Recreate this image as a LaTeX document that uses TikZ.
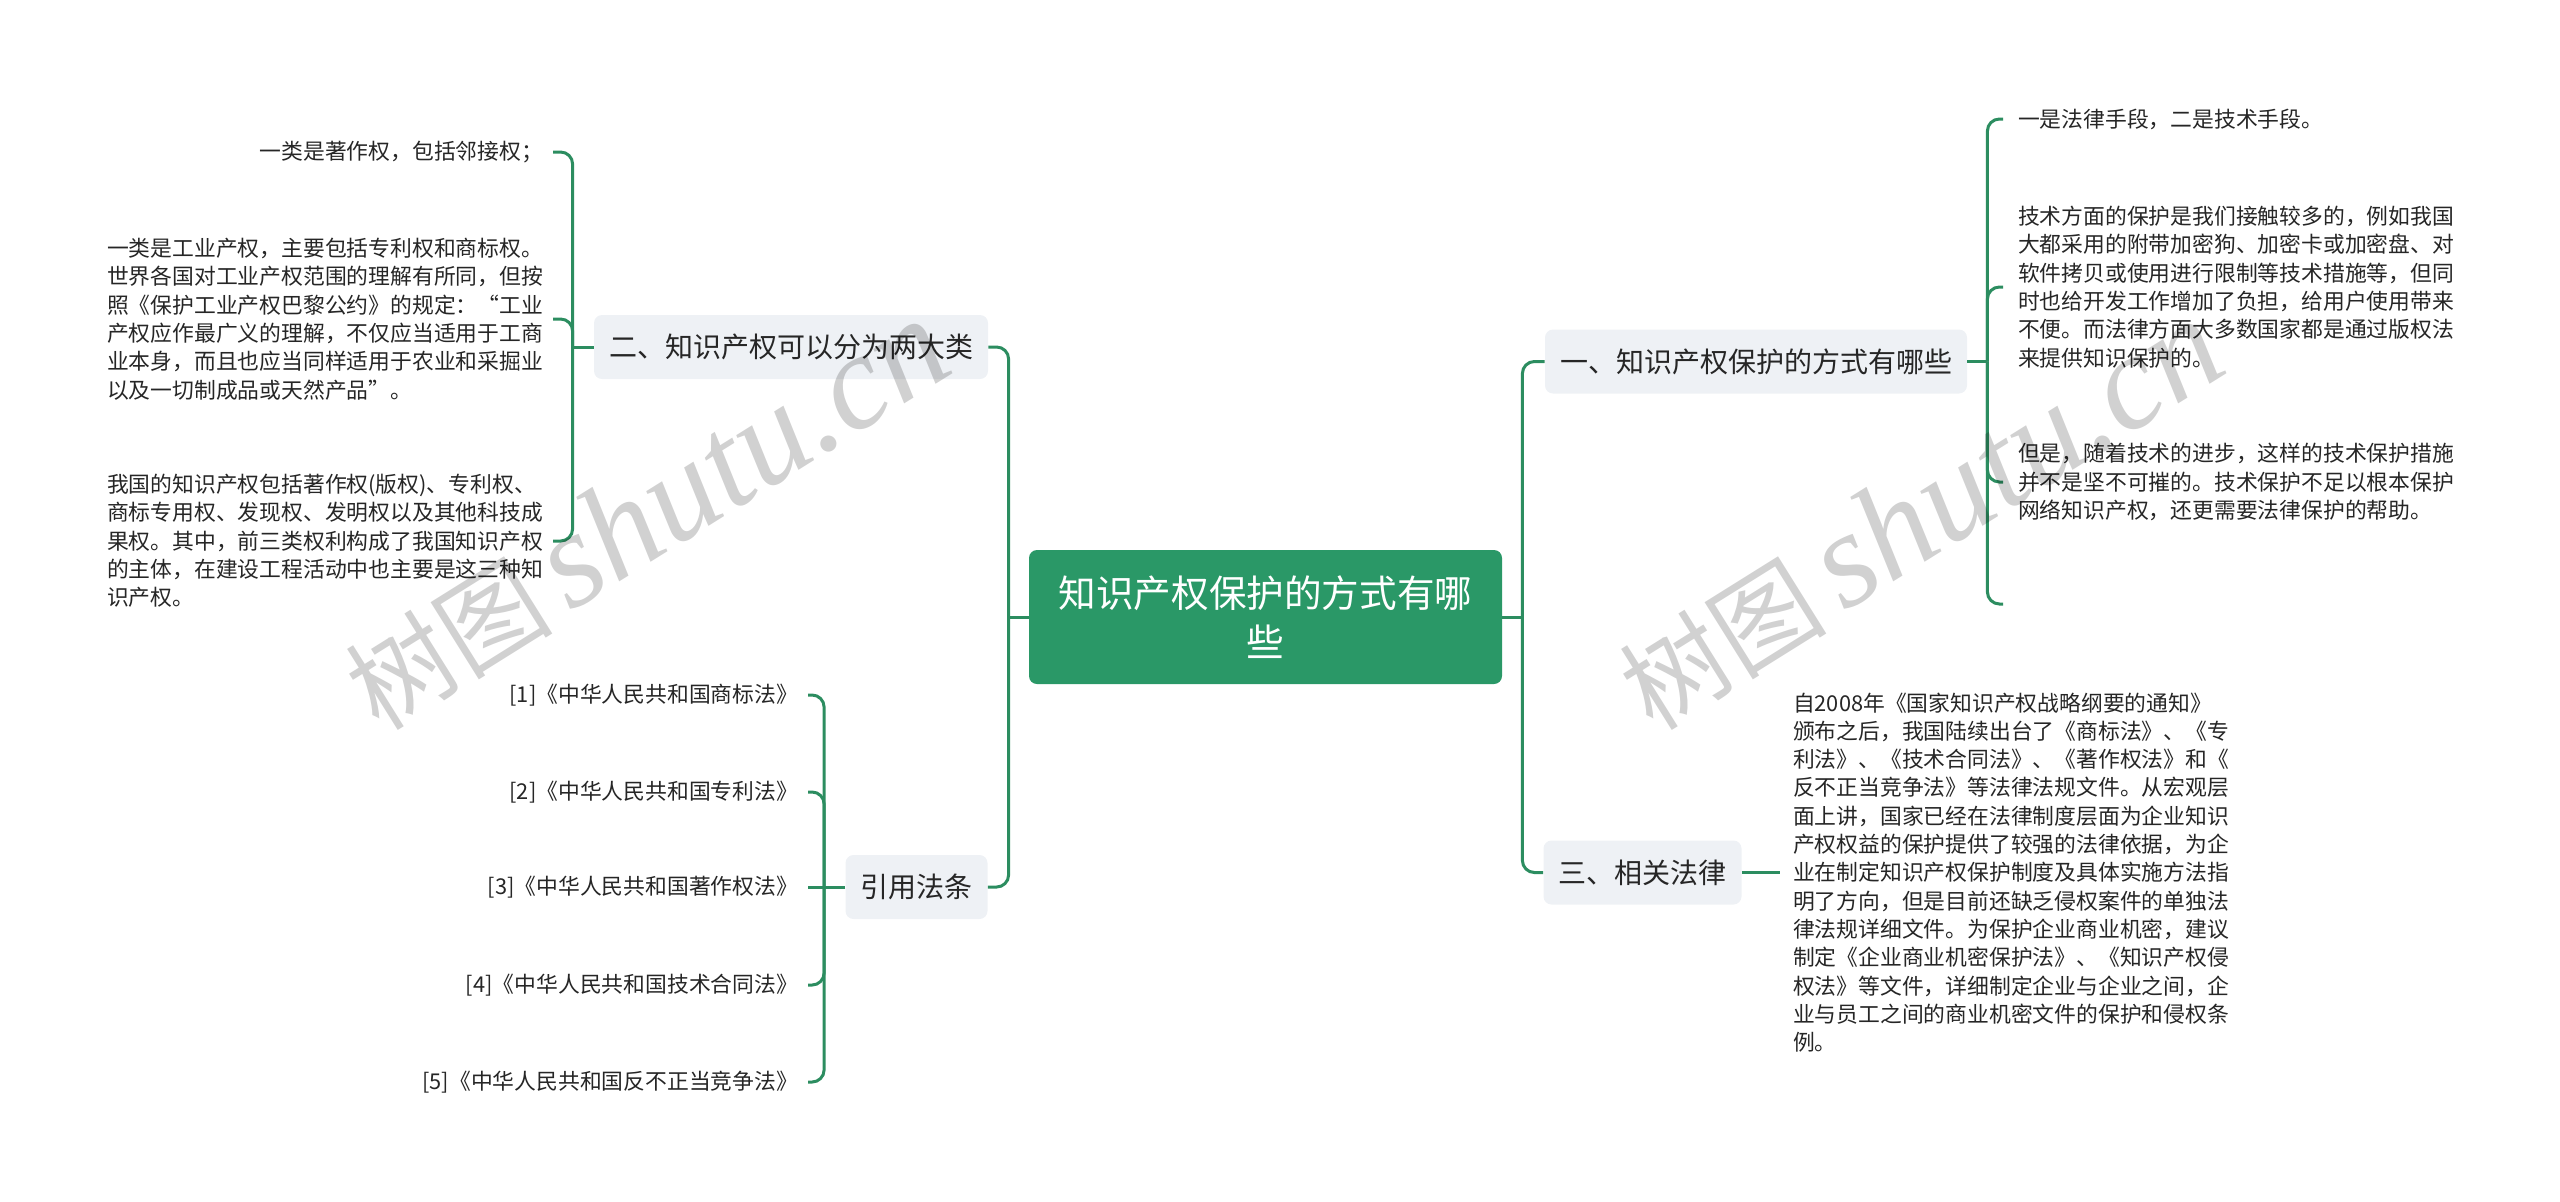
\documentclass[tikz,border=0pt]{standalone}
\usepackage{fontspec}
\setmainfont{Noto Sans CJK SC}
\newfontfamily\wmlatin{Liberation Serif}
\usetikzlibrary{calc}
\definecolor{lineg}{RGB}{44,141,96}
\definecolor{rootg}{RGB}{42,152,103}
\definecolor{branchbg}{RGB}{238,241,245}
\definecolor{txt}{RGB}{38,38,38}
\begin{document}
\begin{tikzpicture}[x=0.5pt,y=-0.5pt,
  conn/.style={draw=lineg, line width=1.5pt, rounded corners=6pt},
  root/.style={fill=rootg, text=white, rounded corners=4pt, minimum width=236.5pt,
    minimum height=67pt, align=center, inner sep=0pt,
    font=\fontsize{18.8}{24.5}\selectfont},
  branch/.style={fill=branchbg, text=txt, rounded corners=4pt, minimum height=32pt,
    inner xsep=7.5pt, inner ysep=0pt, font=\fontsize{14}{17}\selectfont},
  leafL/.style={anchor=east, text=txt, inner sep=0pt, outer xsep=5pt, outer ysep=0pt,
    align=left, font=\fontsize{10.9}{14.15}\selectfont},
  leafR/.style={anchor=west, text=txt, inner sep=0pt, outer xsep=7.5pt, outer ysep=0pt,
    align=left, font=\fontsize{10.9}{14.15}\selectfont},
  wm/.style={text=black, text opacity=0.18, rotate=32, inner sep=0pt}
]
\useasboundingbox (0,0) rectangle (2560,1201);

% root
\node[root] (root) at (1265.5,617) {知识产权保护的方式有哪\\些};

% branches
\node[branch] (B2) at (791,347) {二、知识产权可以分为两大类};
\node[branch] (B4) at (916.5,887) {引用法条};
\node[branch] (B1) at (1756,361.5) {一、知识产权保护的方式有哪些};
\node[branch] (B3) at (1642.5,872.5) {三、相关法律};

% left leaves of B2
\node[leafL] (L1) at (553,152) {一类是著作权，包括邻接权；};
\node[leafL] (L2) at (553,319) {一类是工业产权，主要包括专利权和商标权。\\世界各国对工业产权范围的理解有所同，但按\\照《保护工业产权巴黎公约》的规定：“工业\\产权应作最广义的理解，不仅应当适用于工商\\业本身，而且也应当同样适用于农业和采掘业\\以及一切制成品或天然产品”。};
\node[leafL] (L3) at (553,541) {我国的知识产权包括著作权(版权)、专利权、\\商标专用权、发现权、发明权以及其他科技成\\果权。其中，前三类权利构成了我国知识产权\\的主体，在建设工程活动中也主要是这三种知\\识产权。};

% references
\node[leafL] (F1) at (808,695) {[1]《中华人民共和国商标法》};
\node[leafL] (F2) at (808,792) {[2]《中华人民共和国专利法》};
\node[leafL] (F3) at (808,887) {[3]《中华人民共和国著作权法》};
\node[leafL] (F4) at (808,985) {[4]《中华人民共和国技术合同法》};
\node[leafL] (F5) at (808,1082) {[5]《中华人民共和国反不正当竞争法》};

% right leaves of B1
\node[leafR] (R1) at (2003,119) {一是法律手段，二是技术手段。};
\node[leafR] (R2) at (2003,287) {技术方面的保护是我们接触较多的，例如我国\\大都采用的附带加密狗、加密卡或加密盘、对\\软件拷贝或使用进行限制等技术措施等，但同\\时也给开发工作增加了负担，给用户使用带来\\不便。而法律方面大多数国家都是通过版权法\\来提供知识保护的。};
\node[leafR] (R3) at (2003,482) {但是，随着技术的进步，这样的技术保护措施\\并不是坚不可摧的。技术保护不足以根本保护\\网络知识产权，还更需要法律保护的帮助。};
\coordinate (R4) at (2003,604);

% leaf of B3
\node[leafR, outer xsep=6.5pt] (T3) at (1780,872.5) {自2008年《国家知识产权战略纲要的通知》\\颁布之后，我国陆续出台了《商标法》、《专\\利法》、《技术合同法》、《著作权法》和《\\反不正当竞争法》等法律法规文件。从宏观层\\面上讲，国家已经在法律制度层面为企业知识\\产权权益的保护提供了较强的法律依据，为企\\业在制定知识产权保护制度及具体实施方法指\\明了方向，但是目前还缺乏侵权案件的单独法\\律法规详细文件。为保护企业商业机密，建议\\制定《企业商业机密保护法》、《知识产权侵\\权法》等文件，详细制定企业与企业之间，企\\业与员工之间的商业机密文件的保护和侵权条\\例。};

% junctions
\path (root.west) ++(-20,0) coordinate (jc1);
\path (root.east) ++(20,0) coordinate (jc2);
\path (B2.west) ++(-21,0) coordinate (j2);
\path (B4.west) ++(-21,0) coordinate (j4);
\path (B1.east) ++(20,0) coordinate (j1);

% connectors root
\draw[conn] (root.west) -- (jc1);
\draw[conn] (jc1) |- (B2.east);
\draw[conn] (jc1) |- (B4.east);
\draw[conn] (root.east) -- (jc2);
\draw[conn] (jc2) |- (B1.west);
\draw[conn] (jc2) |- (B3.west);

% B2 group
\draw[conn] (B2.west) -- (j2);
\draw[conn] (j2) |- (L1.east);
\draw[conn] (j2) |- (L2.east);
\draw[conn] (j2) |- (L3.east);

% B4 group
\draw[conn] (B4.west) -- (j4);
\draw[conn] (j4) |- (F1.east);
\draw[conn] (j4) |- (F2.east);
\draw[conn] (j4) -- (F3.east);
\draw[conn] (j4) |- (F4.east);
\draw[conn] (j4) |- (F5.east);

% B1 group
\draw[conn] (B1.east) -- (j1);
\draw[conn] (j1) |- (R1.west);
\draw[conn] (j1) |- (R2.west);
\draw[conn] (j1) |- (R3.west);
\draw[conn] (j1) |- (R4);

% B3
\draw[conn] (B3.east) -- (T3.west);

% watermarks
\node[wm] (wm1) at (646,515) {{\fontsize{52}{52}\selectfont 树图}\hspace{9pt}{\wmlatin\itshape\fontsize{68}{68}\selectfont shutu.cn}};
\node[wm] (wm2) at (1920,515) {{\fontsize{52}{52}\selectfont 树图}\hspace{9pt}{\wmlatin\itshape\fontsize{68}{68}\selectfont shutu.cn}};
\end{tikzpicture}
\end{document}
